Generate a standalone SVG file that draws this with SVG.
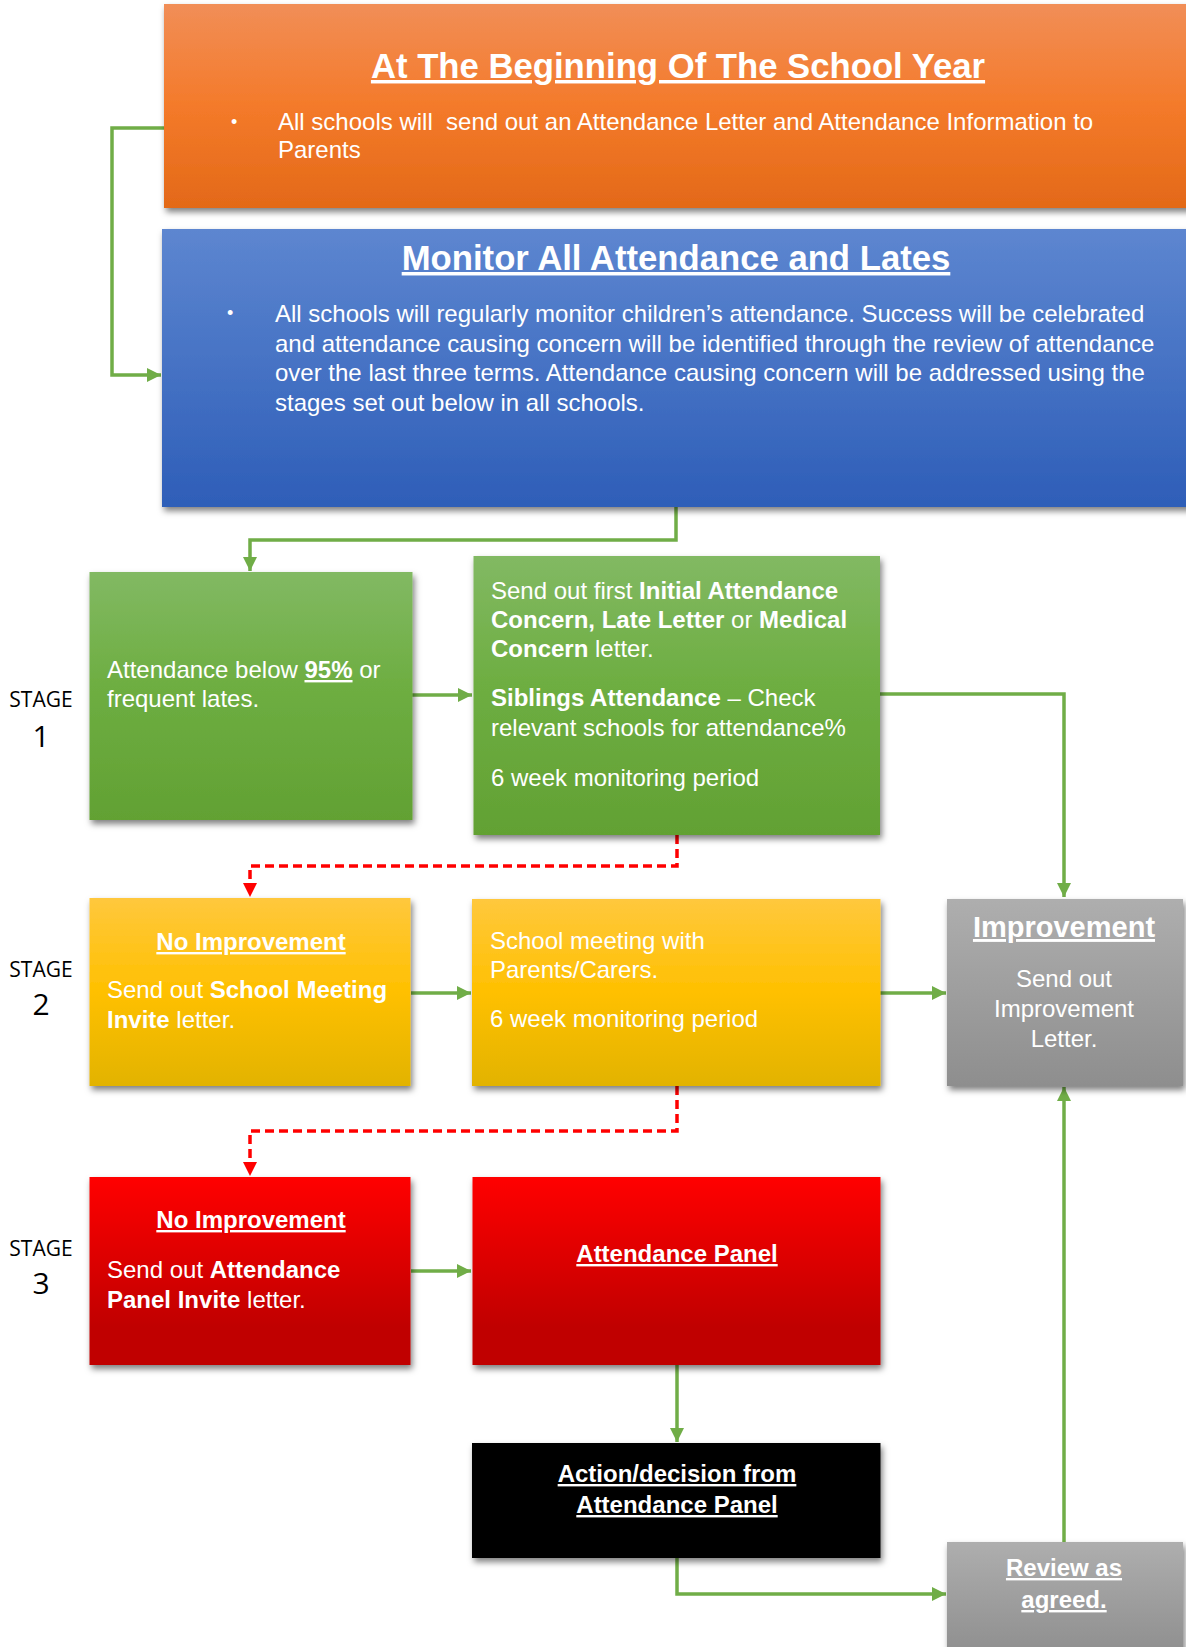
<svg xmlns="http://www.w3.org/2000/svg" width="1186" height="1647" viewBox="0 0 1186 1647">
<defs>
<linearGradient id="gOrange" x1="0" y1="0" x2="0" y2="1"><stop offset="0" stop-color="#F18E57"/><stop offset="0.5" stop-color="#F47A2A"/><stop offset="1" stop-color="#E36918"/></linearGradient>
<linearGradient id="gBlue" x1="0" y1="0" x2="0" y2="1"><stop offset="0" stop-color="#5D86D0"/><stop offset="1" stop-color="#2E5EB8"/></linearGradient>
<linearGradient id="gGreen" x1="0" y1="0" x2="0" y2="1"><stop offset="0" stop-color="#82B963"/><stop offset="0.45" stop-color="#6EAE42"/><stop offset="1" stop-color="#62A133"/></linearGradient>
<linearGradient id="gYellow" x1="0" y1="0" x2="0" y2="1"><stop offset="0" stop-color="#FFC83D"/><stop offset="0.5" stop-color="#FFC000"/><stop offset="1" stop-color="#E2B300"/></linearGradient>
<linearGradient id="gRed" x1="0" y1="0" x2="0" y2="1"><stop offset="0" stop-color="#FF0000"/><stop offset="0.8" stop-color="#C00000"/><stop offset="1" stop-color="#C00000"/></linearGradient>
<linearGradient id="gGray" x1="0" y1="0" x2="0" y2="1"><stop offset="0" stop-color="#AEAEAE"/><stop offset="1" stop-color="#8E8E8E"/></linearGradient>
<filter id="sh" x="-10%" y="-10%" width="125%" height="130%"><feDropShadow dx="2" dy="4" stdDeviation="3" flood-color="#000" flood-opacity="0.5"/></filter>
<marker id="ag" markerUnits="userSpaceOnUse" markerWidth="16" markerHeight="16" refX="14" refY="8" orient="auto"><path d="M0,1 L14,8 L0,15 Z" fill="#70AD47"/></marker>
<marker id="ar" markerUnits="userSpaceOnUse" markerWidth="16" markerHeight="16" refX="14" refY="8" orient="auto"><path d="M0,1 L14,8 L0,15 Z" fill="#FF0000"/></marker>
</defs>
<style>
.box{filter:url(#sh)}
.t{font-family:"Liberation Sans",Arial,sans-serif;fill:#fff;font-size:24px}
.b{font-weight:bold}
.u{text-decoration:underline}
.c{text-anchor:middle}
.h{font-size:34.7px;font-weight:bold;text-decoration:underline;text-anchor:middle}
.bul{font-size:18px}
.big{font-size:29px}
.stage{font-family:"Open Sans","DejaVu Sans",sans-serif;fill:#000;text-anchor:middle;font-size:21px}
.num{font-size:30px}
.gc{fill:none;stroke:#70AD47;stroke-width:3.5;marker-end:url(#ag)}
.rc{fill:none;stroke:#FF0000;stroke-width:3.5;stroke-dasharray:9 5;marker-end:url(#ar)}
</style>
<rect width="1186" height="1647" fill="#fff"/>

<g id="connectors">
<path class="gc" d="M164,128 H112 V375 H161"/>
<path class="gc" d="M676,507 V540 H250 V571"/>
<path class="gc" d="M412,695 H472"/>
<path class="gc" d="M880,694 H1064 V897"/>
<path class="rc" d="M677,835 V866 H250 V897"/>
<path class="gc" d="M411,993 H471"/>
<path class="gc" d="M880,993 H946"/>
<path class="rc" d="M677,1086 V1131 H250 V1176"/>
<path class="gc" d="M411,1271 H471"/>
<path class="gc" d="M677,1365 V1442"/>
<path class="gc" d="M677,1558 V1594 H946"/>
<path class="gc" d="M1064,1542 V1087"/>
</g>

<g id="start">
<rect class="box" x="164" y="4" width="1040" height="204" fill="url(#gOrange)"/>
<text class="t h" x="678" y="78">At The Beginning Of The School Year</text>
<text class="t bul" x="231" y="128">•</text>
<text class="t"><tspan x="278" y="130">All schools will &#160;send out an Attendance Letter and Attendance Information to</tspan><tspan x="278" y="158">Parents</tspan></text>
</g>

<g id="monitor">
<rect class="box" x="162" y="229" width="1040" height="278" fill="url(#gBlue)"/>
<text class="t h" x="676" y="270">Monitor All Attendance and Lates</text>
<text class="t bul" x="227" y="319">•</text>
<text class="t"><tspan x="275" y="322">All schools will regularly monitor children’s attendance. Success will be celebrated</tspan><tspan x="275" y="351.5">and attendance causing concern will be identified through the review of attendance</tspan><tspan x="275" y="381">over the last three terms. Attendance causing concern will be addressed using the</tspan><tspan x="275" y="410.5">stages set out below in all schools.</tspan></text>
</g>

<g id="stage1-label">
<rect x="0" y="683" width="89" height="75" fill="#fff"/>
<text class="stage" x="41" y="707">STAGE</text>
<text class="stage num" x="41" y="747">1</text>
</g>

<g id="stage1-concern">
<rect class="box" x="89.5" y="572" width="323" height="248" fill="url(#gGreen)"/>
<text class="t"><tspan x="107" y="678">Attendance below <tspan class="b u">95%</tspan> or</tspan><tspan x="107" y="707">frequent lates.</tspan></text>
</g>

<g id="stage1-letter">
<rect class="box" x="473.5" y="556" width="406.5" height="279" fill="url(#gGreen)"/>
<text class="t"><tspan x="491" y="599">Send out first <tspan class="b">Initial Attendance</tspan></tspan><tspan x="491" y="628" class="b">Concern, Late Letter <tspan font-weight="normal" style="font-weight:normal">or</tspan> Medical</tspan><tspan x="491" y="657"><tspan class="b">Concern</tspan> letter.</tspan><tspan x="491" y="706"><tspan class="b">Siblings Attendance</tspan> – Check</tspan><tspan x="491" y="736">relevant schools for attendance%</tspan><tspan x="491" y="786">6 week monitoring period</tspan></text>
</g>

<g id="stage2-label">
<rect x="0" y="952" width="89" height="75" fill="#fff"/>
<text class="stage" x="41" y="977">STAGE</text>
<text class="stage num" x="41" y="1015">2</text>
</g>

<g id="stage2-noimprove">
<rect class="box" x="89.5" y="898" width="321" height="188" fill="url(#gYellow)"/>
<text class="t b u c" x="251" y="950">No Improvement</text>
<text class="t"><tspan x="107" y="998">Send out <tspan class="b">School Meeting</tspan></tspan><tspan x="107" y="1028"><tspan class="b">Invite</tspan> letter.</tspan></text>
</g>

<g id="stage2-meeting">
<rect class="box" x="472" y="899" width="408.5" height="187" fill="url(#gYellow)"/>
<text class="t"><tspan x="490" y="949">School meeting with</tspan><tspan x="490" y="978">Parents/Carers.</tspan><tspan x="490" y="1027">6 week monitoring period</tspan></text>
</g>

<g id="improvement">
<rect class="box" x="947" y="899" width="236" height="187" fill="url(#gGray)"/>
<text class="t b u c big" x="1064" y="937">Improvement</text>
<text class="t c"><tspan x="1064" y="987">Send out</tspan><tspan x="1064" y="1017">Improvement</tspan><tspan x="1064" y="1047">Letter.</tspan></text>
</g>

<g id="stage3-label">
<rect x="0" y="1231" width="89" height="75" fill="#fff"/>
<text class="stage" x="41" y="1256">STAGE</text>
<text class="stage num" x="41" y="1294">3</text>
</g>

<g id="stage3-noimprove">
<rect class="box" x="89.5" y="1177" width="321" height="188" fill="url(#gRed)"/>
<text class="t b u c" x="251" y="1228">No Improvement</text>
<text class="t"><tspan x="107" y="1278">Send out <tspan class="b">Attendance</tspan></tspan><tspan x="107" y="1308"><tspan class="b">Panel Invite</tspan> letter.</tspan></text>
</g>

<g id="attendance-panel">
<rect class="box" x="472.5" y="1177" width="408" height="188" fill="url(#gRed)"/>
<text class="t b u c" x="677" y="1262">Attendance Panel</text>
</g>

<g id="action-decision">
<rect class="box" x="472" y="1443" width="408.5" height="115" fill="#000"/>
<text class="t b u c"><tspan x="677" y="1482">Action/decision from</tspan><tspan x="677" y="1513">Attendance Panel</tspan></text>
</g>

<g id="review">
<rect class="box" x="947" y="1542" width="236" height="115" fill="url(#gGray)"/>
<text class="t b u c"><tspan x="1064" y="1576">Review as</tspan><tspan x="1064" y="1608">agreed.</tspan></text>
</g>
</svg>
